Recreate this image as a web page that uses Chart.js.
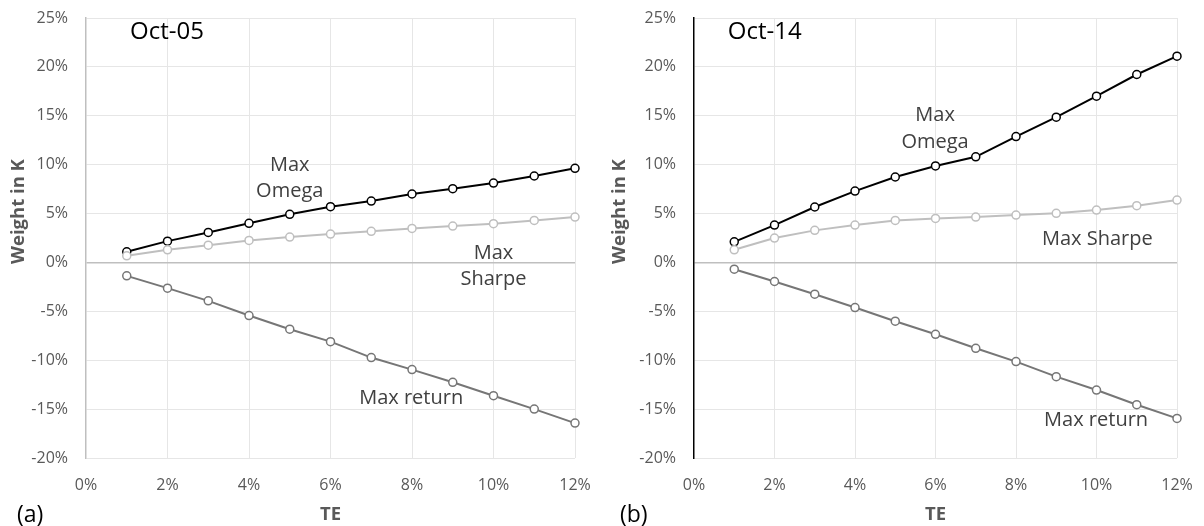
<!DOCTYPE html>
<html>
<head>
<meta charset="utf-8">
<script src="https://cdn.jsdelivr.net/npm/chart.js@4.4.1/dist/chart.umd.min.js"></script>
<style>
  html, body { margin: 0; padding: 0; background: #fff; }
  #wrap { position: relative; width: 1204px; height: 526px; overflow: hidden; }
  canvas { position: absolute; top: 0; }
</style>
</head>
<body>
<div id="wrap">
  <canvas id="chartA" width="600" height="526" style="left:0"></canvas>
  <canvas id="chartB" width="604" height="526" style="left:600px"></canvas>
</div>
<script>
// Tracking error levels (%)
const te = [1, 2, 3, 4, 5, 6, 7, 8, 9, 10, 11, 12];

// Weight in K (%) — October 2005
const omegaOct05  = [1.09, 2.18, 3.07, 4.00, 4.92, 5.70, 6.28, 7.00, 7.54, 8.12, 8.84, 9.63];
const sharpeOct05 = [0.68, 1.29, 1.77, 2.25, 2.59, 2.90, 3.18, 3.48, 3.72, 3.96, 4.30, 4.64];
const returnOct05 = [-1.37, -2.63, -3.93, -5.43, -6.83, -8.10, -9.73, -10.96, -12.26, -13.63, -15.00, -16.43];

// Weight in K (%) — October 2014
const omegaOct14  = [2.11, 3.82, 5.67, 7.30, 8.74, 9.87, 10.80, 12.87, 14.86, 17.00, 19.22, 21.10];
const sharpeOct14 = [1.29, 2.49, 3.28, 3.82, 4.30, 4.50, 4.64, 4.85, 5.02, 5.36, 5.80, 6.38];
const returnOct14 = [-0.69, -1.95, -3.25, -4.61, -6.01, -7.35, -8.78, -10.14, -11.68, -13.05, -14.55, -15.95];

// Axis ticks
const xTicks = [0, 2, 4, 6, 8, 10, 12];
const yTicks = [-20, -15, -10, -5, 0, 5, 10, 15, 20, 25];

const FONT = 'Open Sans';
const TICK_COLOR = '#595959';
const NOTE_COLOR = '#404040';
const CAP = 0.714; // cap height of Open Sans, in em

function toPoints(values) {
  return te.map((t, i) => ({ x: t, y: values[i] }));
}

function series(values, color) {
  return {
    data: toPoints(values),
    borderColor: color,
    borderWidth: 2,
    pointRadius: 4,
    pointBorderWidth: 1.5,
    pointBackgroundColor: '#ffffff',
    pointBorderColor: color,
    tension: 0,
    clip: false
  };
}

// In-plot text labels (placed at data coordinates, y = middle of capitals),
// the vertical axis title and the panel tag.
const notesPlugin = {
  id: 'notes',
  afterDatasetsDraw(chart, args, opts) {
    const { ctx, scales: { x, y } } = chart;
    ctx.save();
    ctx.textBaseline = 'alphabetic';
    (opts.items || []).forEach(n => {
      ctx.font = n.size + 'px "' + FONT + '"';
      ctx.fillStyle = n.color;
      ctx.textAlign = n.align || 'center';
      ctx.fillText(n.text, x.getPixelForValue(n.x), y.getPixelForValue(n.y) + n.size * CAP / 2);
    });
    if (opts.yTitle) {
      const t = opts.yTitle;
      ctx.save();
      ctx.translate(t.px, t.py);
      ctx.rotate(-Math.PI / 2);
      ctx.font = 'bold ' + t.size + 'px "' + FONT + '"';
      ctx.fillStyle = TICK_COLOR;
      ctx.textAlign = 'center';
      ctx.fillText(t.text, 0, t.size * CAP / 2);
      ctx.restore();
    }
    if (opts.panel) {
      const p = opts.panel;
      ctx.font = p.size + 'px "' + FONT + '"';
      ctx.fillStyle = '#000';
      ctx.textAlign = 'left';
      ctx.fillText(p.text, p.px, p.py);
    }
    ctx.restore();
  }
};

function makeChart(id, data, cfg) {
  return new Chart(document.getElementById(id), {
    type: 'line',
    data: {
      datasets: [
        series(data.sharpe, '#bfbfbf'),
        series(data.ret, '#767676'),
        series(data.omega, '#000000')
      ]
    },
    options: {
      responsive: false,
      animation: false,
      devicePixelRatio: 1,
      layout: { padding: { left: 0, right: cfg.padRight, top: 18, bottom: 0 } },
      plugins: {
        legend: { display: false },
        tooltip: { enabled: false },
        notes: { items: cfg.notes, panel: cfg.panel, yTitle: cfg.yTitle }
      },
      scales: {
        x: {
          type: 'linear',
          min: xTicks[0],
          max: xTicks[xTicks.length - 1],
          afterBuildTicks: s => { s.ticks = xTicks.map(v => ({ value: v })); },
          afterFit: s => { s.height = 68; },
          ticks: {
            padding: 0,
            color: TICK_COLOR,
            font: { family: FONT, size: 16 },
            callback: v => v + '%'
          },
          // invisible tick marks keep the labels clear of the plot edge
          grid: {
            drawTicks: true,
            tickLength: 18,
            tickColor: 'rgba(0,0,0,0)',
            lineWidth: 1,
            color: c => (c.tick && c.tick.value === 0) ? 'rgba(0,0,0,0)' : '#e6e6e6'
          },
          border: { display: false },
          title: {
            display: true,
            text: 'TE',
            color: TICK_COLOR,
            font: { family: FONT, size: 18.5, weight: 'bold' },
            padding: { top: 0, bottom: 0 }
          }
        },
        y: {
          type: 'linear',
          min: yTicks[0],
          max: yTicks[yTicks.length - 1],
          afterBuildTicks: s => { s.ticks = yTicks.map(v => ({ value: v })); },
          afterFit: s => { s.width = cfg.yWidth; },
          ticks: {
            padding: 0,
            color: TICK_COLOR,
            font: { family: FONT, size: 16 },
            callback: v => v + '%'
          },
          grid: {
            drawTicks: true,
            tickLength: 18,
            tickColor: 'rgba(0,0,0,0)',
            color: c => (c.tick && c.tick.value === 0) ? '#bfbfbf' : '#e6e6e6',
            lineWidth: c => (c.tick && c.tick.value === 0) ? 1.5 : 1
          },
          border: { display: true, color: cfg.axisColor, width: 1.5 }
        }
      }
    },
    plugins: [notesPlugin]
  });
}

const NOTE = 20;
const TAG = 24;

makeChart('chartA',
  { omega: omegaOct05, sharpe: sharpeOct05, ret: returnOct05 },
  {
    padRight: 25,
    yWidth: 86,
    axisColor: '#bfbfbf',
    notes: [
      { text: 'Oct-05', x: 1.08, y: 23.7, size: TAG, color: '#000', align: 'left' },
      { text: 'Max', x: 5.0, y: 10.1, size: NOTE, color: NOTE_COLOR },
      { text: 'Omega', x: 5.0, y: 7.4, size: NOTE, color: NOTE_COLOR },
      { text: 'Max', x: 10.0, y: 1.1, size: NOTE, color: NOTE_COLOR },
      { text: 'Sharpe', x: 10.0, y: -1.6, size: NOTE, color: NOTE_COLOR },
      { text: 'Max return', x: 7.98, y: -13.77, size: NOTE, color: NOTE_COLOR }
    ],
    yTitle: { text: 'Weight in K', px: 17.5, py: 211.5, size: 18.5 },
    panel: { text: '(a)', px: 17, py: 522, size: 23 }
  });

makeChart('chartB',
  { omega: omegaOct14, sharpe: sharpeOct14, ret: returnOct14 },
  {
    padRight: 27,
    yWidth: 94,
    axisColor: '#000000',
    notes: [
      { text: 'Oct-14', x: 0.84, y: 23.7, size: TAG, color: '#000', align: 'left' },
      { text: 'Max', x: 5.99, y: 15.2, size: NOTE, color: NOTE_COLOR },
      { text: 'Omega', x: 5.99, y: 12.4, size: NOTE, color: NOTE_COLOR },
      { text: 'Max Sharpe', x: 10.02, y: 2.54, size: NOTE, color: NOTE_COLOR },
      { text: 'Max return', x: 9.99, y: -15.95, size: NOTE, color: NOTE_COLOR }
    ],
    yTitle: { text: 'Weight in K', px: 18.5, py: 211.5, size: 18.5 },
    panel: { text: '(b)', px: 20, py: 522, size: 23 }
  });
</script>
</body>
</html>
